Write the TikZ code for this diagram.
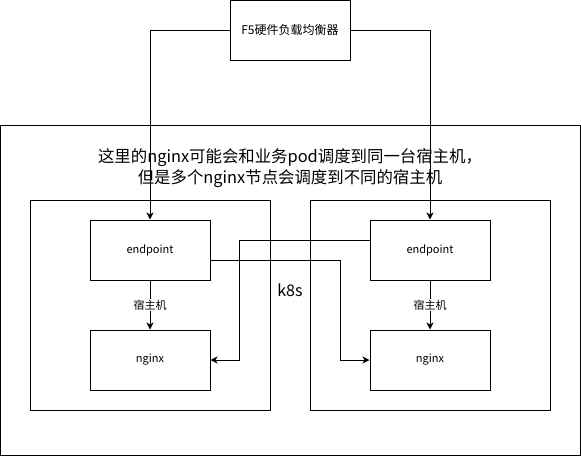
\documentclass[tikz,border=0pt]{standalone}
\usepackage{fontspec}
\setmainfont{Noto Sans CJK SC}
\usetikzlibrary{arrows.meta,positioning}
\tikzset{
  lb diagram/.style={x=1pt, y=-1pt, line width=1pt,
    font=\fontsize{11}{13}\selectfont},
  lb box/.style={draw, fill=white, minimum width=120pt,
    minimum height=60pt, inner sep=0pt},
  lb host/.style={draw, minimum width=240pt, minimum height=210pt},
  lb cluster/.style={draw, minimum width=580pt, minimum height=330pt,
    font=\fontsize{16}{20}\selectfont},
  lb title/.style={align=center, font=\fontsize{16.4}{21}\selectfont},
  lb arrow/.style={-{Stealth[length=7pt,width=7pt,inset=2pt]}},
  lb label/.style={fill=white, inner sep=1pt}
}

\begin{document}
\begin{tikzpicture}[lb diagram]
\useasboundingbox (0,0) rectangle (581,456);
\node[lb cluster] (k8s) at (290,290) {k8s};
\node[lb title] (note) at (290,168) {这里的nginx可能会和业务pod调度到同一台宿主机，\\但是多个nginx节点会调度到不同的宿主机};
\node[lb host] (hostL) at (150,305) {};
\node[lb host] (hostR) at (430,305) {};
\node[lb box, font=\fontsize{12}{14}\selectfont] (f5) at (290,30) {F5硬件负载均衡器};
\node[lb box] (epL) at (150,250) {endpoint};
\node[lb box] (ngL) at (150,360) {nginx};
\node[lb box] (epR) at (430,250) {endpoint};
\node[lb box] (ngR) at (430,360) {nginx};
\draw[lb arrow] (f5.west) -| (epL.north);
\draw[lb arrow] (f5.east) -| (epR.north);
\draw[lb arrow] (epL) -- node[lb label] {宿主机} (ngL);
\draw[lb arrow] (epR) -- node[lb label] {宿主机} (ngR);
\draw[lb arrow] ([yshift=-10pt]epL.east) -- ++(130,0) |- (ngR.west);
\draw[lb arrow] ([yshift=10pt]epR.west) -- ++(-130,0) |- (ngL.east);
\end{tikzpicture}
\end{document}
